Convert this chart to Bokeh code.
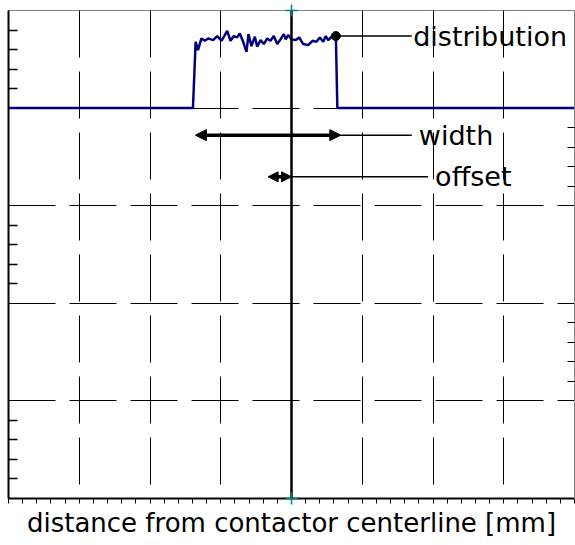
from bokeh.plotting import figure
from bokeh.models import (Range1d, LinearAxis, FixedTicker, Span, Arrow, NormalHead,
                          ColumnDataSource, CustomJSTickFormatter)
from bokeh.core.properties import value
from bokeh.embed import file_html
from bokeh.resources import INLINE

# ---------------- data ----------------
x_start, x_end = -4.0, 4.0
y_start, y_end = -4.0, 1.0
x_grid = [-3, -2, -1, 0, 1, 2, 3]
y_grid = [-3, -2, -1, 0]

dist_x = [-4.0, -1.393, -1.355, -1.322, -1.273, -1.226, -1.178, -1.108, -1.051, -0.990,
          -0.909, -0.862, -0.816, -0.768, -0.731, -0.683, -0.636, -0.608, -0.566, -0.518,
          -0.485, -0.438, -0.391, -0.343, -0.297, -0.250, -0.202, -0.156, -0.109, -0.081,
          -0.047, 0.000, 0.061, 0.109, 0.165, 0.236, 0.297, 0.354, 0.400, 0.448,
          0.485, 0.519, 0.566, 0.627, 0.648, 4.0]
dist_y = [0.0, 0.0, 0.679, 0.594, 0.714, 0.690, 0.714, 0.697, 0.738, 0.690,
          0.792, 0.690, 0.738, 0.724, 0.765, 0.679, 0.577, 0.758, 0.635, 0.731,
          0.628, 0.697, 0.656, 0.714, 0.690, 0.738, 0.656, 0.704, 0.758, 0.704,
          0.748, 0.704, 0.697, 0.724, 0.656, 0.645, 0.690, 0.679, 0.724, 0.679,
          0.738, 0.697, 0.731, 0.738, 0.0, 0.0]

# distribution edges (left rise / right fall) and marker point
edge_left, edge_right = -1.358, 0.697
marker_x, marker_y = [0.627], [0.738]

# annotation rows
ann_text = ["distribution", "width", "offset"]
ann_y = [0.738, -0.277, -0.704]
ann_line_start = [0.627, 0.697, 0.0]
ann_line_end = [1.70, 1.70, 1.93]
ann_text_x = [1.72, 1.80, 2.03]

left_minor = [0.2, 0.4, 0.6, 0.8, -1.8, -1.6, -1.4, -1.2, -3.8, -3.6, -3.4, -3.2]
right_minor = [-0.8, -0.6, -0.4, -0.2, -2.8, -2.6, -2.4, -2.2]
bottom_minor = [round(-4 + 0.2 * i, 1) for i in range(41)]

x_label = "distance from contactor centerline [mm]"

# ---------------- figure ----------------
p = figure(width=575, height=545, output_backend="svg", toolbar_location=None,
           x_range=Range1d(x_start, x_end), y_range=Range1d(y_start, y_end),
           x_axis_location="below", y_axis_location="left",
           min_border_left=8, min_border_right=1, min_border_top=10, min_border_bottom=47)
p.background_fill_color = "white"
p.border_fill_color = "white"
p.outline_line_color = "#808080"
p.outline_line_width = 1

empty = CustomJSTickFormatter(code="return ''")

# bottom axis
xa = p.xaxis[0]
xa.ticker = FixedTicker(ticks=[], minor_ticks=bottom_minor)
xa.formatter = empty
xa.axis_line_color = "black"
xa.axis_line_width = 2
xa.minor_tick_out = 5
xa.minor_tick_in = 0
xa.minor_tick_line_color = "black"
xa.major_tick_out = 0
xa.major_tick_in = 0
xa.major_label_standoff = 0
xa.axis_label = x_label
xa.axis_label_text_font = "DejaVu Sans"
xa.axis_label_text_font_size = "26px"
xa.axis_label_text_font_style = "normal"
xa.axis_label_text_color = "black"
xa.axis_label_standoff = 4

# left axis
ya = p.yaxis[0]
ya.ticker = FixedTicker(ticks=[], minor_ticks=left_minor)
ya.formatter = empty
ya.axis_line_color = "black"
ya.axis_line_width = 2
ya.minor_tick_in = 9
ya.minor_tick_out = 0
ya.minor_tick_line_color = "black"
ya.minor_tick_line_width = 1.5
ya.major_tick_in = 0
ya.major_tick_out = 0
ya.major_label_standoff = 0

# right axis
ra = LinearAxis(ticker=FixedTicker(ticks=[], minor_ticks=right_minor), formatter=empty)
ra.axis_line_color = "#808080"
ra.axis_line_width = 1
ra.minor_tick_in = 7
ra.minor_tick_out = 0
ra.minor_tick_line_color = "black"
ra.minor_tick_line_width = 1.2
ra.major_tick_in = 0
ra.major_tick_out = 0
ra.major_label_standoff = 0
p.add_layout(ra, "right")

# grids
p.xgrid.ticker = FixedTicker(ticks=x_grid)
p.ygrid.ticker = FixedTicker(ticks=y_grid)
for g in (p.xgrid[0], p.ygrid[0]):
    g.grid_line_color = "black"
    g.grid_line_width = 1
    g.grid_line_dash = "47 14"
p.xgrid[0].grid_line_dash_offset = 47
p.ygrid[0].grid_line_dash_offset = 0

# centre line
p.add_layout(Span(location=0, dimension="height", line_color="black", line_width=2.5))

# distribution
p.line(dist_x, dist_y, line_color="#000080", line_width=2.5)
p.scatter(marker_x, marker_y, marker="circle", size=9, color="black")

# leader lines
p.segment(x0=ann_line_start, y0=ann_y, x1=ann_line_end, y1=ann_y,
          line_color="black", line_width=1.5)

# width arrow
p.add_layout(Arrow(x_start=edge_left, y_start=ann_y[1], x_end=edge_right, y_end=ann_y[1],
                   line_width=3.5, line_color="black",
                   start=NormalHead(size=11, fill_color="black", line_color="black"),
                   end=NormalHead(size=11, fill_color="black", line_color="black")))
# offset arrow
centre = (edge_left + edge_right) / 2
p.add_layout(Arrow(x_start=centre, y_start=ann_y[2], x_end=0.0, y_end=ann_y[2],
                   line_width=3.5, line_color="black",
                   start=NormalHead(size=10, fill_color="black", line_color="black"),
                   end=NormalHead(size=10, fill_color="black", line_color="black")))

src = ColumnDataSource(dict(x=ann_text_x, y=ann_y, t=ann_text))
p.text(x="x", y="y", text="t", source=src, text_font=value("DejaVu Sans"),
       text_font_size="27px", text_baseline="middle", text_align="left", text_color="black")

# teal crosses at the centreline ends
p.scatter([0, 0], [y_end, y_start], marker="cross", size=12, line_color="#008080",
          line_width=1.5, level="overlay")

open("out.html", "w").write(file_html(p, INLINE))
